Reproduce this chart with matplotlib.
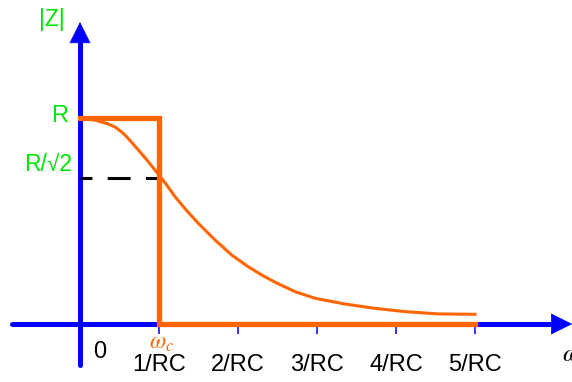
import numpy as np
import matplotlib
matplotlib.use('Agg')
import matplotlib.pyplot as plt

plt.rcParams['font.family'] = ['Liberation Sans', 'DejaVu Sans']

w = [0, 0.19, 0.358, 0.45, 0.528, 0.591, 0.738, 0.865, 0.971, 1.097, 1.203, 1.329,
     1.497, 1.709, 1.920, 2.130, 2.30, 2.468, 2.722, 2.975, 3.354, 3.734, 4.114,
     4.535, 5.0]
z = [1.0, 0.990, 0.971, 0.955, 0.932, 0.909, 0.845, 0.788, 0.737, 0.675, 0.618,
     0.560, 0.489, 0.408, 0.335, 0.278, 0.238, 0.203, 0.157, 0.125, 0.097, 0.076,
     0.060, 0.049, 0.047]

# Filtro ideal
ideal_w = [0, 1, 1, 5]
ideal_z = [1, 1, 0, 0]

# Ponto de corte
wc = 1.0
zc = 1 / np.sqrt(2)

tick_pos = [1, 2, 3, 4, 5]
tick_labels = ['1/RC', '2/RC', '3/RC', '4/RC', '5/RC']

blue = '#0000FF'
orange = '#FF6600'
green = '#00E600'

fig = plt.figure(figsize=(5.72, 3.82), dpi=100)
ax = fig.add_axes([0, 0, 1, 1])
ax.set_xlim(-80 / 79, 492 / 79)
ax.set_ylim(-58 / 206, 324 / 206)
ax.axis('off')

# Eixos azuis com setas
ax.plot([0, 0], [-0.199, 1.37], color=blue, lw=3.6, solid_capstyle='round', zorder=1)
ax.annotate('', xy=(0, 1.466), xytext=(0, 1.36),
            arrowprops=dict(arrowstyle='-|>,head_length=1.0,head_width=0.5',
                            mutation_scale=14.4, color=blue, lw=0.5,
                            shrinkA=0, shrinkB=0), zorder=1)
ax.plot([-0.861, 5.95], [0, 0], color=blue, lw=3.6, solid_capstyle='round', zorder=1)
ax.annotate('', xy=(6.23, 0), xytext=(5.94, 0),
            arrowprops=dict(arrowstyle='-|>,head_length=1.0,head_width=0.5',
                            mutation_scale=14.4, color=blue, lw=0.5,
                            shrinkA=0, shrinkB=0), zorder=1)
ax.vlines(tick_pos, -0.05, 0, color=blue, lw=1.1, zorder=1)

# Filtro ideal e curva real
ax.plot(ideal_w, ideal_z, color=orange, lw=3.8, solid_joinstyle='miter', zorder=3)
ax.plot(w, z, color=orange, lw=2.2, zorder=3)

# Linha tracejada em R/sqrt(2)
ax.plot([0, wc], [zc, zc], color='k', lw=2.2, linestyle=(3.6, (7.5, 5)), zorder=2)

# Textos
ax.text(-0.15, 1.01, 'R', color=green, fontsize=17, ha='right', va='center')
ax.text(-0.10, 0.775, 'R/\u221a2', color=green, fontsize=16.5, ha='right', va='center')
ax.text(-0.354, 1.48, '|Z|', color=green, fontsize=16.5, ha='center', va='center')
ax.text(0.25, -0.136, '0', color='k', fontsize=17, ha='center', va='center')
for p, lab in zip(tick_pos, tick_labels):
    ax.text(p, -0.197, lab, color='k', fontsize=17, ha='center', va='center')
ax.text(1.03, -0.09, r'$\omega_c$', color=orange, fontsize=17, ha='center',
        va='center', math_fontfamily='stix')
ax.text(6.10, -0.145, r'$\omega$', color='k', fontsize=18, ha='left',
        va='center', math_fontfamily='stix')

plt.savefig('out.png', dpi=100)
